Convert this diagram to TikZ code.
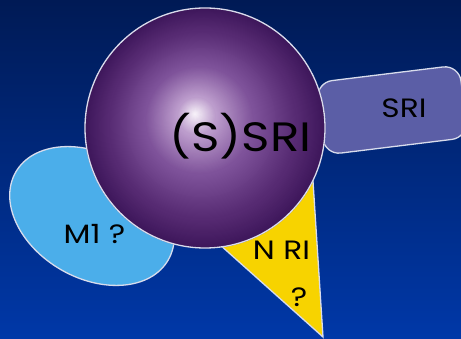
\documentclass[tikz,border=0pt]{standalone}
\usepackage{fontspec}
\setmainfont{Poppins}[FakeStretch=1.18]
\usetikzlibrary{shapes.geometric}

\definecolor{bgtop}{HTML}{001A55}
\definecolor{bgbottom}{HTML}{0038A8}
\definecolor{sphcore}{HTML}{F6F0F8}
\definecolor{sphlight}{HTML}{BC9CCC}
\definecolor{sphmid}{HTML}{7E529A}
\definecolor{sphdeep}{HTML}{562A72}
\definecolor{sphedge}{HTML}{3D165A}
\definecolor{mone}{HTML}{4BAEEA}
\definecolor{nri}{HTML}{F7D300}
\definecolor{sri}{HTML}{5B5EA6}
\definecolor{rim}{HTML}{D8DCEC}

\tikzset{
  shapeedge/.style={draw=rim, line width=1.3pt},
  label/.style={font=\fontsize{26.5}{26.5}\selectfont, text=black, anchor=base, inner sep=0pt},
  biglabel/.style={font=\fontsize{41}{41}\selectfont, text=black, anchor=base, inner sep=0pt}
}

\begin{document}
\begin{tikzpicture}[x=1pt, y=1pt]
  \useasboundingbox (0,0) rectangle (461,-339);
  \shade[top color=bgtop, bottom color=bgbottom] (0,0) rectangle (461,-339);

  % yellow wedge behind the sphere
  \filldraw[fill=nri, shapeedge] (200,-227) -- (311,-150) -- (323,-337) -- cycle;

  % blue lobe on the left
  \node[ellipse, fill=mone, shapeedge, minimum width=176pt, minimum height=124pt,
        inner sep=0pt, rotate=-30] (mone) at (92,-216) {};

  % tilted box on the right
  \node[rectangle, rounded corners=16pt, fill=sri, shapeedge, minimum width=144pt,
        minimum height=73pt, inner sep=0pt, rotate=7] (sribox) at (392,-110) {};

  % the sphere: stacked discs shrinking towards a highlight up and left of centre
  \node[circle, minimum size=240pt, inner sep=0pt] (sphere) at (205,-128) {};
  \foreach \ra/\rb/\ca/\cb in {120/95/sphedge/sphdeep, 94/55/sphdeep/sphmid,
                               54/20/sphmid/sphlight, 19/1/sphlight/sphcore} {
    \foreach \r in {\ra,...,\rb} {
      \pgfmathsetmacro\p{100*(\r-\rb)/(\ra-\rb+0.001)}
      \pgfmathsetmacro\s{1-\r/120}
      \fill[color=\ca!\p!\cb] ({205-10*\s},{-128+14*\s}) circle[radius=\r+0.5];
    }
  }
  \draw[shapeedge] (sphere.center) circle[radius=120];

  \node[biglabel] (ssri) at (240.5,-152) {(S)SRI};
  \node[label] (monetext) at (94.5,-244) {M1 ?};
  \node[label] (nritext) at (281.5,-260) {N RI};
  \node[label] (nriq) at (299,-307) {?};
  \node[label] (sritext) at (404,-118) {SRI};
\end{tikzpicture}
\end{document}
